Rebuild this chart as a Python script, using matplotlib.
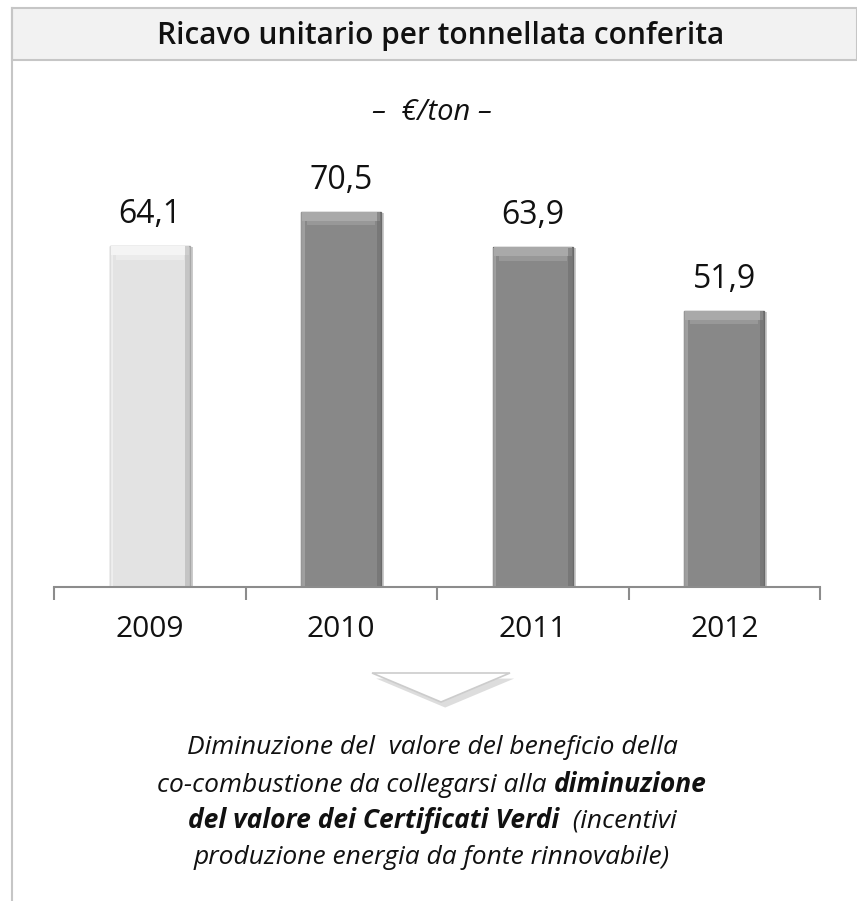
import matplotlib
matplotlib.use("Agg")
import matplotlib.pyplot as plt
import matplotlib.patheffects as pe
from matplotlib.patches import Polygon, Rectangle

# data
anni = ["2009", "2010", "2011", "2012"]
ricavo = [64.1, 70.5, 63.9, 51.9]
etichette = ["64,1", "70,5", "63,9", "51,9"]
colori = ["#e3e3e3", "#888888", "#888888", "#888888"]
luci = ["#f4f4f4", "#a9a9a9", "#a9a9a9", "#a9a9a9"]
bordi = ["#a8a8a8", "#6a6a6a", "#6a6a6a", "#6a6a6a"]

titolo = "Ricavo unitario per tonnellata conferita"
unita = "\u2013  \u20ac/ton \u2013"
nota = [
    [("Diminuzione del  valore del beneficio della", "i")],
    [("co-combustione da collegarsi alla ", "i"), ("diminuzione", "b")],
    [("del valore dei Certificati Verdi", "b"), ("  (incentivi", "i")],
    [("produzione energia da fonte rinnovabile)", "i")],
]

FONT = ["Open Sans", "DejaVu Sans"]
W, H = 857, 901
fig = plt.figure(figsize=(W / 100, H / 100), dpi=100)
fig.patch.set_facecolor("white")


def fx(px):
    return px / W


def fy(py):
    return 1 - py / H


# frame + title band
fig.add_artist(Rectangle((fx(12), fy(60)), fx(857) - fx(12), fy(8) - fy(60),
                         transform=fig.transFigure, facecolor="#f2f2f2",
                         edgecolor="#c6c6c6", linewidth=1.5, zorder=0))
fig.add_artist(plt.Line2D([fx(12), fx(12)], [fy(8), 0], transform=fig.transFigure,
                          color="#c6c6c6", linewidth=1.5))
fig.text(fx(441), fy(36), titolo, ha="center", va="center", fontsize=21.5,
         fontweight="semibold", family=FONT, color="#111111")
fig.text(fx(432), fy(113), unita, ha="center", va="center", fontsize=21,
         style="italic", family=FONT, color="#111111")

# bar chart
ax = fig.add_axes([fx(54), 1 - 587 / H, fx(820) - fx(54), 426 / H])
x = range(len(anni))
bw = 0.42
shadow = [pe.SimplePatchShadow(offset=(2, -1), alpha=0.3, shadow_rgbFace="#555555"), pe.Normal()]
bars = ax.bar(x, ricavo, width=bw, color=colori, edgecolor=bordi, linewidth=1.0, zorder=2)
for b in bars:
    b.set_path_effects(shadow)
# bevel: light top strip, light left edge, dark right edge
ax.bar(x, [1.6] * 4, bottom=[v - 1.7 for v in ricavo], width=bw * 0.97,
       color=luci, linewidth=0, zorder=3)
ax.bar(x, [1.0] * 4, bottom=[v - 2.6 for v in ricavo], width=bw * 0.85,
       color=luci, alpha=0.5, linewidth=0, zorder=3)
ax.bar([i + bw / 2 - 0.013 for i in x], [v - 0.3 for v in ricavo], bottom=0.15,
       width=0.022, color=bordi, alpha=0.5, linewidth=0, zorder=3)
ax.bar([i - bw / 2 + 0.011 for i in x], [v - 0.3 for v in ricavo], bottom=0.15,
       width=0.018, color=luci, alpha=0.7, linewidth=0, zorder=3)

for i, (v, t) in enumerate(zip(ricavo, etichette)):
    ax.annotate(t, (i, v), xytext=(0, 31), textcoords="offset pixels",
                ha="center", va="center", fontsize=23, family=FONT, color="#111111")

ax.set_xlim(-0.5, len(anni) - 0.5)
ax.set_ylim(0, 80)
ax.set_xticks([i - 0.5 for i in range(len(anni) + 1)])
ax.set_xticklabels([])
ax.set_xticks(list(x), minor=True)
ax.set_xticklabels(anni, minor=True, fontsize=21.5, family=FONT, color="#111111")
ax.tick_params(axis="x", which="major", length=9, width=1.5, color="#8c8c8c", direction="out")
ax.tick_params(axis="x", which="minor", length=0, pad=20)
ax.set_yticks([])
for s in ["left", "right", "top"]:
    ax.spines[s].set_visible(False)
ax.spines["bottom"].set_color("#8c8c8c")
ax.spines["bottom"].set_linewidth(1.5)
ax.patch.set_alpha(0)

# arrow
freccia = Polygon([(fx(372), fy(673)), (fx(510), fy(673)), (fx(441), fy(702))],
                  closed=True, transform=fig.transFigure, facecolor="white",
                  edgecolor="#cccccc", linewidth=1.2)
freccia.set_path_effects([pe.SimplePatchShadow(offset=(3, -4), alpha=0.22,
                                               shadow_rgbFace="#666666"), pe.Normal()])
fig.add_artist(freccia)

# note text with mixed styles, centred line by line
renderer = fig.canvas.get_renderer()
righe_y = [748, 785, 821, 857]
for riga, ypx in zip(nota, righe_y):
    pezzi = []
    for testo, st in riga:
        t = fig.text(0, fy(ypx), testo, ha="left", va="center", fontsize=19,
                     family=FONT, color="#111111",
                     style="italic", fontweight="bold" if st == "b" else "normal")
        pezzi.append(t)
    larg = [p.get_window_extent(renderer).width for p in pezzi]
    xpx = 432 - sum(larg) / 2
    for p, w in zip(pezzi, larg):
        p.set_x(fx(xpx))
        xpx += w

fig.savefig("out.png", dpi=100)
